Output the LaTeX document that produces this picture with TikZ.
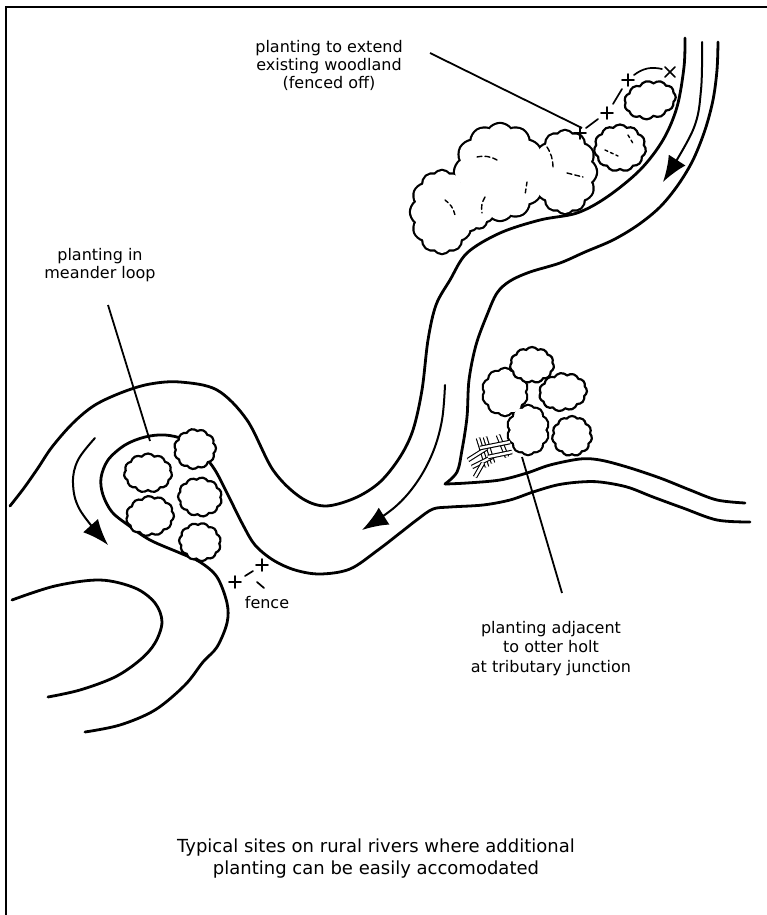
\documentclass[tikz,border=0pt]{standalone}
\usepackage{fontspec}
\setmainfont{DejaVu Sans}
\usetikzlibrary{shapes.symbols,arrows.meta}

\begin{document}
\begin{tikzpicture}[x=1pt, y=-1pt,
  bank/.style={line width=2.8pt, line cap=round, line join=round},
  flowarrow/.style={line width=2pt, line cap=round, -{Latex[length=26pt,width=20pt]}},
  leaderline/.style={line width=1.8pt},
  treeclump/.style={cloud, cloud puffs=11, cloud puff arc=105, cloud ignores aspect, draw, fill=white, line width=2.2pt, inner sep=0pt},
  woodline/.style={cloud, cloud puffs=12, cloud puff arc=110, cloud ignores aspect, draw, line width=4.4pt, inner sep=0pt},
  woodfill/.style={cloud, cloud puffs=12, cloud puff arc=110, cloud ignores aspect, fill=white, inner sep=0pt},
  innerstroke/.style={line width=1.4pt, line cap=round},
  fencemark/.style={line width=1.7pt, line cap=round},
  logstick/.style={double, line width=1.1pt, double distance=2.4pt},
  lbl/.style={align=center, inner sep=0pt, font=\fontsize{16}{18}\selectfont},
]
\useasboundingbox (0,0) rectangle (767,915);

% frame
\draw[line width=2pt] (767,7) -- (6,7) -- (6,915);

% ---- river banks ----
% left bank of the upper reach, running on round the outside of the meander loop
\draw[bank] plot[smooth, tension=0.55] coordinates {
  (685,38) (684,67) (677,107) (663,140) (640,170) (607,197) (577,213)
  (540,220) (500,233) (467,253) (450,280) (436,305) (428,340) (422,390)
  (413,430) (400,457) (380,482) (355,498) (325,506) (300,497) (273,470)
  (247,420) (217,390) (180,382) (150,384) (123,392) (95,405) (73,423)
  (52,447) (38,468) (24,488) (10,506)};
% right bank of the upper reach, down to the tributary junction
\draw[bank] plot[smooth, tension=0.55] coordinates {
  (718,42) (717,70) (713,100) (705,130) (693,160) (678,185) (660,207)
  (638,225) (613,240) (585,252) (560,263) (530,272) (510,281) (497,293)
  (487,315) (476,345) (469,380) (467,417) (462,450) (457,472) (445,484)};
% tributary, upper bank
\draw[bank] plot[smooth, tension=0.55] coordinates {
  (445,484) (467,483) (500,480) (527,473) (550,465) (580,459) (600,460)
  (627,467) (660,478) (690,490) (717,500) (745,503)};
% tributary lower bank, continuing round the meander loop
\draw[bank] plot[smooth, tension=0.55] coordinates {
  (750,522) (717,520) (683,508) (653,497) (627,487) (600,482) (580,482)
  (557,485) (533,492) (510,500) (483,505) (450,507) (433,509) (418,519)
  (400,533) (378,550) (350,569) (320,574) (295,570) (273,560) (255,545)
  (243,525) (227,493) (215,470) (203,455) (185,440) (165,435) (145,437)
  (125,445) (108,460) (101,478) (103,495) (112,512) (128,525) (150,540)
  (180,553) (200,562) (217,577) (227,603) (227,623) (217,647) (203,662)
  (185,685) (155,710) (120,725) (85,732)};
% bank of the next bend
\draw[bank] plot[smooth, tension=0.55] coordinates {
  (12,600) (55,586) (100,580) (135,588) (155,603) (162,622) (155,643)
  (140,660) (115,677) (80,690) (48,697)};

% ---- flow arrows ----
\draw[flowarrow] plot[smooth, tension=0.6] coordinates {(702,42) (701,90) (693,130) (663,182)};
\draw[flowarrow] plot[smooth, tension=0.6] coordinates {(445,385) (442,420) (433,452) (417,482) (395,507) (362,530)};
\draw[flowarrow] plot[smooth, tension=0.6] coordinates {(95,438) (78,460) (73,483) (80,510) (108,545)};

% ---- existing woodland, top ----
\node[woodline, minimum width=62pt, minimum height=82pt] (w1o) at (442,212) {};
\node[woodline, minimum width=90pt, minimum height=96pt] (w2o) at (500,172) {};
\node[woodline, minimum width=62pt, minimum height=82pt] (w3o) at (565,172) {};
\node[woodline, minimum width=50pt, minimum height=50pt] (w4o) at (470,205) {};
\node[woodfill, minimum width=62pt, minimum height=82pt] (w1) at (442,212) {};
\node[woodfill, minimum width=90pt, minimum height=96pt] (w2) at (500,172) {};
\node[woodfill, minimum width=62pt, minimum height=82pt] (w3) at (565,172) {};
\node[woodfill, minimum width=50pt, minimum height=50pt] (w4) at (470,205) {};
\draw[innerstroke, dash pattern=on 5pt off 3pt] (477,157) to[bend left=20] (497,160);
\draw[innerstroke, dash pattern=on 5pt off 3pt] (485,197) to[bend right=20] (482,213);
\draw[innerstroke, dash pattern=on 4pt off 3pt] (527,182) -- (525,195);
\draw[innerstroke, dash pattern=on 5pt off 3pt] (547,147) to[bend left=15] (553,167);
\draw[innerstroke, dash pattern=on 5pt off 3pt] (567,173) -- (583,177);
\draw[innerstroke, dash pattern=on 4pt off 3pt] (445,200) to[bend left=20] (455,215);

% new planting beside the woodland
\node[treeclump, minimum width=52pt, minimum height=47pt] (t1) at (620,148) {};
\node[treeclump, minimum width=52pt, minimum height=38pt, rotate=12] (t2) at (650,100) {};
\draw[innerstroke, dash pattern=on 3pt off 3pt] (605,150) -- (618,156);
\draw[innerstroke, dash pattern=on 3pt off 3pt] (628,135) -- (634,145);

% fence round the new planting
\foreach \fx/\fy in {580/133, 607/113, 628/80}
  \draw[fencemark] (\fx-6,\fy) -- (\fx+6,\fy) (\fx,\fy-6) -- (\fx,\fy+6);
\draw[fencemark] (665,67) -- (675,77) (665,77) -- (675,67);
\draw[fencemark] (586,128) -- (598,119);
\draw[fencemark] (613,104) -- (622,89);
\draw[fencemark] (634,75) to[bend left=25] (662,69);

% ---- meander loop planting ----
\node[treeclump, minimum width=42pt, minimum height=40pt, rotate=10] (ma) at (195,449) {};
\node[treeclump, minimum width=48pt, minimum height=39pt] (mb) at (148,473) {};
\node[treeclump, minimum width=44pt, minimum height=39pt, rotate=-8] (mc) at (200,497) {};
\node[treeclump, minimum width=48pt, minimum height=40pt, rotate=6] (md) at (150,516) {};
\node[treeclump, minimum width=42pt, minimum height=38pt, rotate=-12] (me) at (200,542) {};

% fence by the loop
\draw[fencemark] (229,582) -- (241,582) (235,576) -- (235,588);
\draw[fencemark] (256,565) -- (268,565) (262,559) -- (262,571);
\draw[fencemark] (245,576) -- (253,571);
\draw[fencemark] (257,582) -- (264,588);

% ---- planting at the tributary junction ----
\node[woodline, cloud puffs=10, minimum width=44pt, minimum height=46pt] (g1o) at (505,392) {};
\node[woodline, cloud puffs=10, minimum width=40pt, minimum height=48pt] (g2o) at (528,430) {};
\node[woodfill, cloud puffs=10, minimum width=44pt, minimum height=46pt] (g1) at (505,392) {};
\node[woodfill, cloud puffs=10, minimum width=40pt, minimum height=48pt] (g2) at (528,430) {};
\node[treeclump, minimum width=44pt, minimum height=36pt] (tf) at (532,365) {};
\node[treeclump, minimum width=48pt, minimum height=38pt, rotate=8] (th) at (563,392) {};
\node[treeclump, minimum width=40pt, minimum height=40pt] (ti) at (572,436) {};

% otter holt: a pile of logs
\draw[logstick] (478,438) -- (487,467);
\draw[logstick] (485,437) -- (493,463);
\draw[logstick] (498,435) -- (507,457);
\draw[logstick] (468,460) -- (487,448);
\draw[logstick] (472,467) -- (492,457);
\draw[logstick] (480,448) -- (510,442);
\draw[logstick] (488,457) -- (512,452);
\draw[logstick] (475,477) -- (483,463);

% ---- labels and leaders ----
\node[lbl, anchor=north] (woodlabel) at (329,40) {planting to extend\\existing woodland\\(fenced off)};
\node[lbl, anchor=north] (looplabel) at (100,248) {planting in\\meander loop};
\node[lbl, anchor=base] (fencelabel) at (267,608) {fence};
\node[lbl, anchor=north, font=\fontsize{16}{19.5}\selectfont] (holtlabel) at (551,621) {planting adjacent\\to otter holt\\at tributary junction};
\node[lbl, anchor=north, font=\fontsize{18}{22}\selectfont] (caption) at (376,839) {Typical sites on rural rivers where additional\\planting can be easily accomodated};

\coordinate (wl1) at (430,53);  \coordinate (wl2) at (582,128);
\coordinate (ll1) at (108,305); \coordinate (ll2) at (150,441);
\coordinate (hl1) at (522,457); \coordinate (hl2) at (562,593);
\draw[leaderline] (wl1) -- (wl2);
\draw[leaderline] (ll1) -- (ll2);
\draw[leaderline] (hl1) -- (hl2);
\end{tikzpicture}
\end{document}
